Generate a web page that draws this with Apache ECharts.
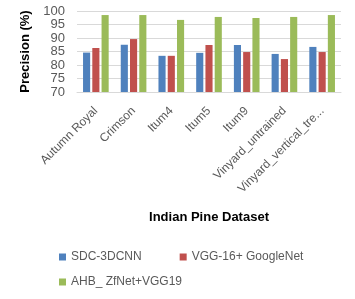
<!DOCTYPE html>
<html>
<head>
<meta charset="utf-8">
<script src="https://cdn.jsdelivr.net/npm/echarts@6/dist/echarts.min.js"></script>
<style>
  html, body { margin: 0; padding: 0; background: #fff; }
  #chart { width: 355px; height: 299px; }
</style>
</head>
<body>
<div id="chart"></div>
<script>
// precision values
var categories = ['Autumn Royal', 'Crimson', 'Itum4', 'Itum5', 'Itum9', 'Vinyard_untrained', 'Vinyard_vertical_tre...'];
var sdc3dcnn = [84.6, 87.5, 83.4, 84.5, 87.4, 84.1, 86.7];
var vggGoogle = [86.3, 89.6, 83.4, 87.4, 84.8, 82.2, 84.8];
var ahbZfVgg = [98.5, 98.5, 96.7, 97.8, 97.4, 97.8, 98.5];
var seriesNames = ['SDC-3DCNN', 'VGG-16+ GoogleNet', 'AHB_ ZfNet+VGG19'];
var colors = ['#4f81bd', '#c0504d', '#9bbb59'];

var font = 'Liberation Sans, Arial, sans-serif';
var chart = echarts.init(document.getElementById('chart'));

function bar(name, data, color) {
  return {
    name: name,
    type: 'bar',
    data: data,
    barGap: '30%',
    barCategoryGap: '32%',
    itemStyle: { color: color },
    animation: false
  };
}

chart.setOption({
  textStyle: { fontFamily: font },
  grid: { left: 77, right: 14, top: 11, bottom: 207 },
  legend: [{
    data: [seriesNames[0], seriesNames[1]],
    left: 54, top: 246,
    itemWidth: 7, itemHeight: 7, itemGap: 38,
    icon: 'rect',
    textStyle: { color: '#595959', fontSize: 12, fontFamily: font }
  }, {
    data: [seriesNames[2]],
    left: 54, top: 271,
    itemWidth: 7, itemHeight: 7,
    icon: 'rect',
    textStyle: { color: '#595959', fontSize: 12, fontFamily: font }
  }],
  xAxis: {
    type: 'category',
    data: categories,
    name: 'Indian Pine Dataset',
    nameLocation: 'middle',
    nameGap: 119,
    nameTextStyle: { fontWeight: 'bold', fontSize: 13, color: '#000', fontFamily: font },
    axisLine: { lineStyle: { color: '#d9d9d9' } },
    axisTick: { show: false },
    axisLabel: { rotate: 45, interval: 0, color: '#595959', fontSize: 12, margin: 17, fontFamily: font }
  },
  yAxis: {
    type: 'value',
    min: 70, max: 100, interval: 5,
    name: 'Precision (%)',
    nameLocation: 'middle',
    nameGap: 45,
    nameTextStyle: { fontWeight: 'bold', fontSize: 13, color: '#000', fontFamily: font },
    axisLine: { show: false },
    axisTick: { show: false },
    axisLabel: { color: '#595959', fontSize: 13, margin: 12, fontFamily: font },
    splitLine: { lineStyle: { color: '#d9d9d9', width: 1 } }
  },
  series: [
    bar(seriesNames[0], sdc3dcnn, colors[0]),
    bar(seriesNames[1], vggGoogle, colors[1]),
    bar(seriesNames[2], ahbZfVgg, colors[2])
  ]
});
</script>
</body>
</html>
